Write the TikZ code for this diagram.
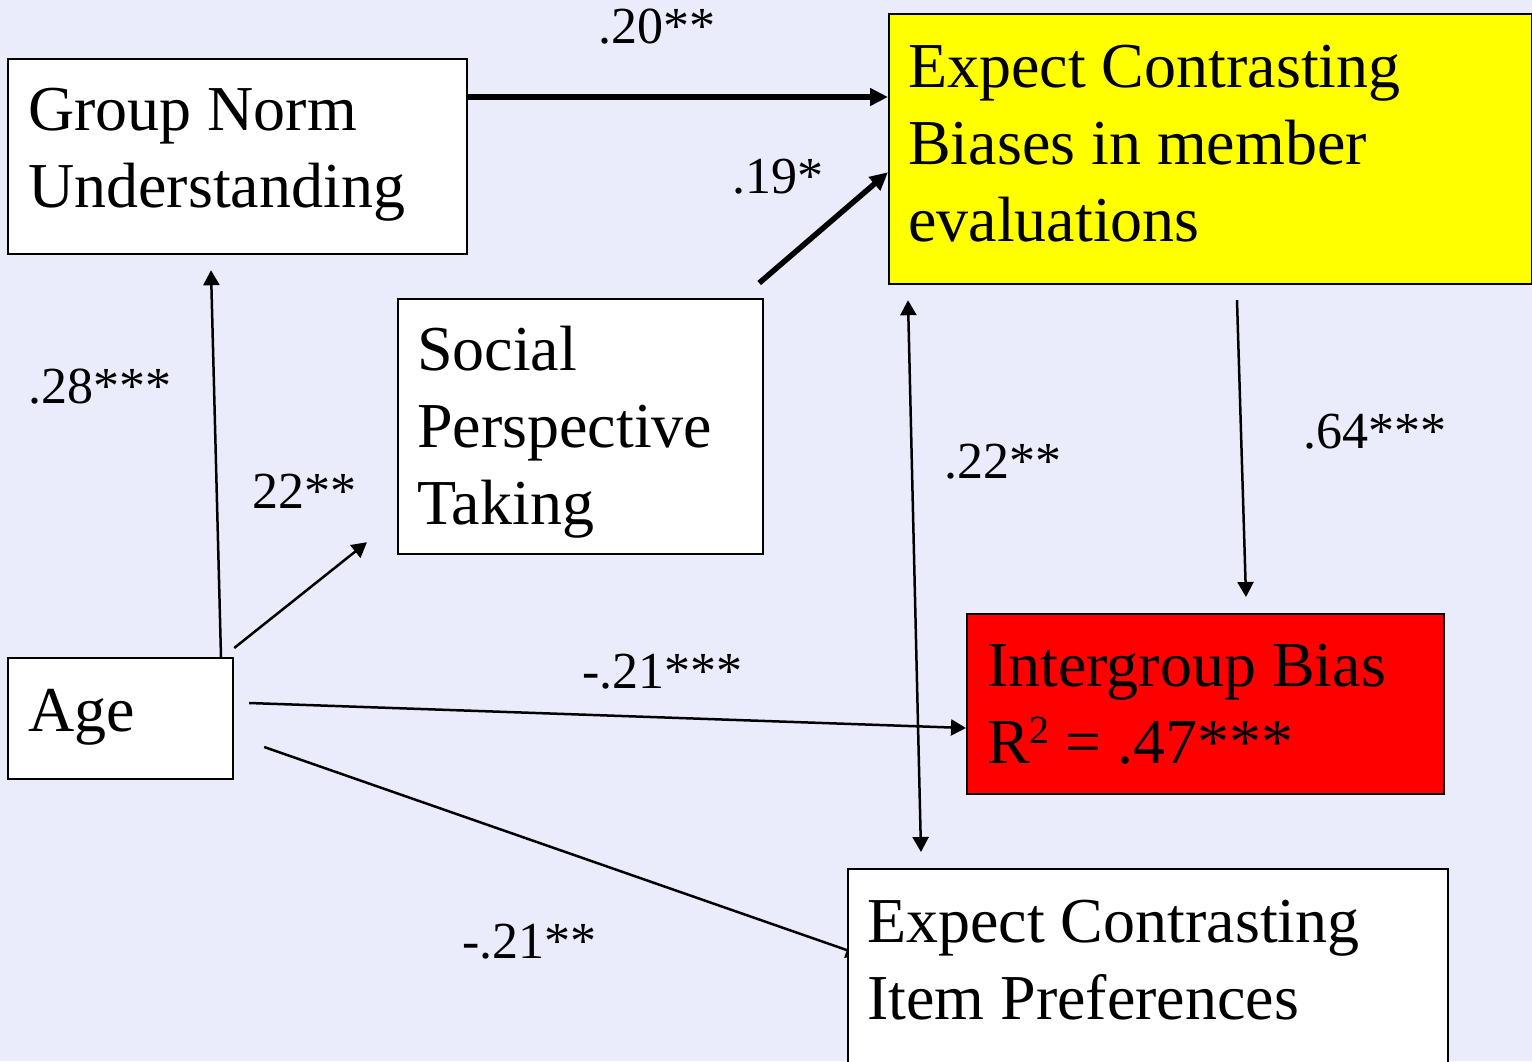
\documentclass[tikz,border=0pt]{standalone}
\usepackage{fontspec}
\setmainfont{Liberation Serif}
\usetikzlibrary{arrows.meta,calc}
\pgfdeclarelayer{bg}
\pgfdeclarelayer{under}
\pgfsetlayers{bg,under,main}
\definecolor{slidebg}{RGB}{234,236,252}
\definecolor{hiyellow}{RGB}{255,255,0}
\definecolor{hired}{RGB}{255,0,0}
\newcommand\boxfont{\fontsize{64}{77}\selectfont}
\newcommand\coeffont{\fontsize{52}{60}\selectfont}
\newcommand\supertwo{\raisebox{20pt}{\fontsize{40}{40}\selectfont 2}}

\begin{document}
\begin{tikzpicture}[x=1pt,y=-1pt,
  box/.style={draw, line width=2.2pt, anchor=north west, inner sep=0pt, fill=white},
  boxtext/.style={anchor=base west, inner sep=0pt, font=\boxfont},
  coef/.style={anchor=base west, inner sep=0pt, font=\coeffont},
  thinarrow/.style={line width=2.5pt, -{Triangle[length=15pt,width=16pt]}},
  thickarrow/.style={line width=5.5pt, -{Triangle[length=18pt,width=17pt]}},
  botharrow/.style={line width=2.5pt, {Triangle[length=15pt,width=16pt]}-{Triangle[length=15pt,width=16pt]}},
]
\begin{pgfonlayer}{bg}
  \fill[slidebg] (0,0) rectangle (1532,1061);
\end{pgfonlayer}
\useasboundingbox (0,0) rectangle (1532,1061);

% boxes
\node[box, minimum width=459pt, minimum height=195pt] (gn) at (7,58) {};
\node[box, fill=hiyellow, minimum width=643pt, minimum height=270pt] (ecb) at (888,13) {};
\node[box, minimum width=365pt, minimum height=255pt] (spt) at (397,298) {};
\node[box, minimum width=225pt, minimum height=121pt] (age) at (7,657) {};
\node[box, fill=hired, minimum width=477pt, minimum height=180pt] (ib) at (966,613) {};
\node[box, minimum width=600pt, minimum height=210pt] (item) at (847,868) {};

% box texts
\node[boxtext] (gnt) at (28,130) {\begin{tabular}[t]{@{}l@{}}Group Norm\\Understanding\end{tabular}};
\node[boxtext] (ecbt) at (908,87) {\begin{tabular}[t]{@{}l@{}}Expect Contrasting\\Biases in member\\evaluations\end{tabular}};
\node[boxtext] (sptt) at (417,370) {\begin{tabular}[t]{@{}l@{}}Social\\Perspective\\Taking\end{tabular}};
\node[boxtext] (aget) at (28,731) {Age};
\node[boxtext] (ibt) at (987,686) {Intergroup Bias};
\node[boxtext] (ibr) at (987,763) {R\supertwo{} = .47***};
\node[boxtext] (itemt) at (867,942) {\begin{tabular}[t]{@{}l@{}}Expect Contrasting\\Item Preferences\end{tabular}};

% paths
\draw[thickarrow] ($(gn.north east)+(0,39)$) -- ($(ecb.north west)+(0,84)$);
\draw[thickarrow] ($(spt.north east)+(-5,-15)$) -- ($(ecb.south west)+(0,-113)$);
\draw[thinarrow] ($(age.north west)+(214,0)$) -- ($(gn.south west)+(204,15)$);
\draw[thinarrow] ($(age.north east)+(0,-9)$) -- ($(spt.south west)+(-30,-13)$);
\draw[thinarrow] ($(age.north east)+(15,46)$) -- ($(ib.north west)+(0,115)$);
\begin{pgfonlayer}{under}
  \draw[thinarrow] ($(age.north east)+(30,90)$) -- ($(item.north west)+(14,87)$);
\end{pgfonlayer}
\draw[botharrow] ($(ecb.south west)+(20,15)$) -- ($(item.north west)+(74,-16)$);
\draw[thinarrow] ($(ecb.south west)+(349,15)$) -- ($(ib.north west)+(280,-16)$);

% coefficients
\node[coef] (c1) at (598,43) {.20**};
\node[coef] (c2) at (732,193) {.19*};
\node[coef] (c3) at (28,403) {.28***};
\node[coef] (c4) at (252,508) {22**};
\node[coef] (c5) at (944,478) {.22**};
\node[coef] (c6) at (1303,448) {.64***};
\node[coef] (c7) at (582,688) {-.21***};
\node[coef] (c8) at (462,958) {-.21**};
\end{tikzpicture}
\end{document}
